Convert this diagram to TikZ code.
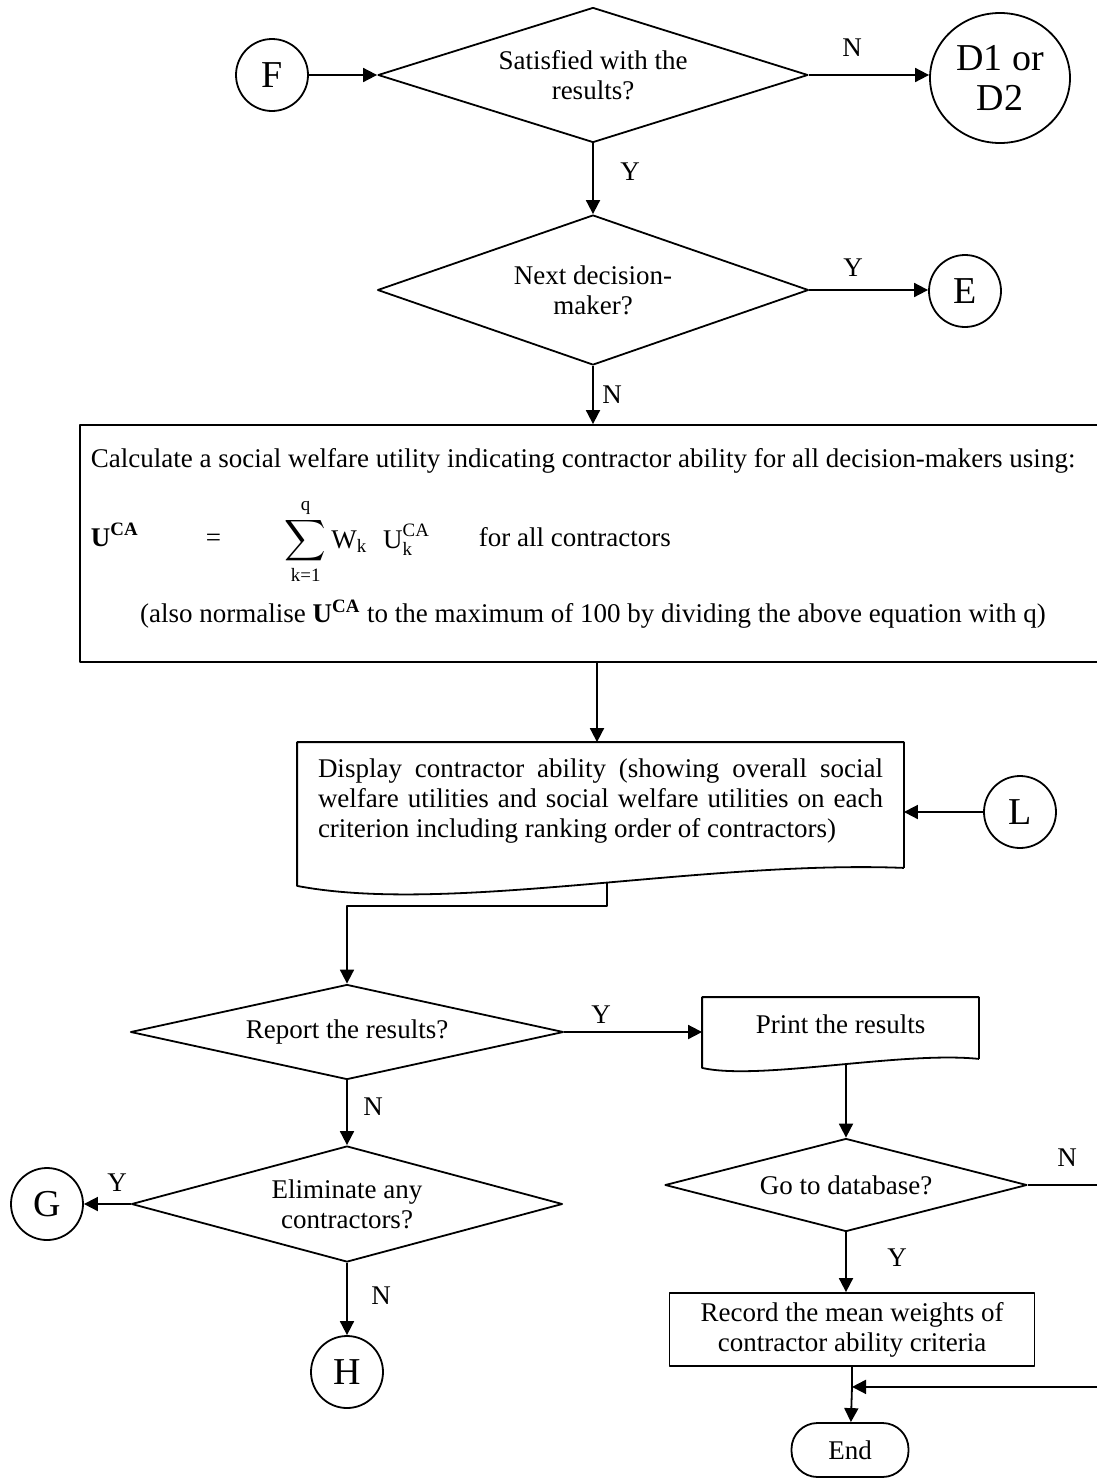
\documentclass[tikz,border=0pt]{standalone}
\usepackage{amsmath}
\usepackage{fontspec}
\setmainfont{Liberation Serif}
\usetikzlibrary{calc,arrows.meta,shapes.geometric}
\tikzset{flowchart/.style={
  x=0.5pt,y=-0.5pt,
  line width=0.9pt,line join=round,
  >={Triangle[length=7pt,width=7pt]},
  font=\fontsize{13.5}{15}\selectfont
},
  decision/.style={draw,diamond,inner sep=0pt,align=center},
  connector/.style={draw,circle,minimum size=36pt,inner sep=0pt,align=center,
    font=\fontsize{19}{20}\selectfont},
  process/.style={draw,rectangle,inner sep=0pt,align=center},
  docshape/.style={rectangle,inner sep=0pt,align=center},
  terminal/.style={draw,rectangle,rounded corners=13pt,inner sep=0pt},
  answer/.style={inner sep=0pt}
}

\begin{document}
\begin{tikzpicture}[flowchart]
  \useasboundingbox (0,0) rectangle (1097,1478);
  % checks before the summary
  \node[connector] (F) at (272,75) {F};
  \node[decision,minimum width=215pt,minimum height=67.5pt,aspect=3.2] (sat) at (593,75) {Satisfied with the\\results?};
  \node[connector,ellipse,minimum width=70pt,minimum height=65pt] (D) at (1000,78) {D1 or\\D2};
  \node[decision,minimum width=215.5pt,minimum height=75pt,aspect=2.9] (next) at (593,290) {Next decision-\\maker?};
  \node[connector] (E) at (965,291) {E};

  % social welfare utility
  \node[process,minimum width=517pt,minimum height=118.5pt] (calc) at (597,543.5) {};
  \node[anchor=west,inner sep=0pt] (calctext) at (90,461) {Calculate a social welfare utility indicating contractor ability for all decision-makers using:};
  \node[anchor=base west,inner sep=0pt] (lhs) at (90,546) {\textbf{U}\textsuperscript{\textbf{CA}}};
  \node[anchor=base west,inner sep=0pt] (eq) at (205,546) {=};
  \node[anchor=base west,inner sep=0pt] (rhs) at (284,548) {$\displaystyle\sum_{\text{k=1}}^{\text{q}}\text{W}_{\text{k}}\;\;\text{U}_{\text{k}}^{\text{CA}}$};
  \node[anchor=base west,inner sep=0pt] (forall) at (478,546) {for all contractors};
  \node[inner sep=0pt] (norm) at (593,614) {(also normalise \textbf{U}\textsuperscript{\textbf{CA}} to the maximum of 100 by dividing the above equation with q)};

  % display of the results
  \node[docshape,minimum width=302.5pt,minimum height=58pt,text width=282.5pt,align=justify] (disp) at (600.5,801) {Display contractor ability (showing overall social\linebreak welfare utilities and social welfare utilities on each\linebreak criterion including ranking order of contractors)};
  \draw ($(disp.south east)+(0,8)$) -- (disp.north east) -- (disp.north west)
    -- ($(disp.south west)+(0,26)$) .. controls ($(disp.south west)+(152,55)$)
    and ($(disp.south east)+(-203,0)$) .. ($(disp.south east)+(0,8)$);
  \node[connector] (L) at (1020,812) {L};

  \node[decision,minimum width=216.5pt,minimum height=47.5pt,aspect=4.5] (report) at (347,1032) {Report the results?};
  \node[docshape,minimum width=137.5pt,minimum height=26pt] (print) at (840.5,1024) {Print the results};
  \draw ($(print.south east)+(0,8)$) -- (print.north east) -- (print.north west)
    -- ($(print.south west)+(0,17)$) .. controls ($(print.south west)+(57,30)$)
    and ($(print.south east)+(-78,0)$) .. ($(print.south east)+(0,8)$);
  \node[decision,minimum width=181pt,minimum height=46.5pt,aspect=3.9] (db) at (846,1185) {Go to database?};
  \node[process,minimum width=182.5pt,minimum height=36.5pt] (record) at (852,1329.5) {Record the mean weights of\\contractor ability criteria};
  \node[terminal,minimum width=58.5pt,minimum height=27pt] (stop) at (850,1450) {End};

  \node[decision,minimum width=215.5pt,minimum height=58pt,aspect=3.7] (elim) at (347,1204) {Eliminate any\\contractors?};
  \node[connector] (G) at (47,1204) {G};
  \node[connector] (H) at (347,1372) {H};

  % flow lines
  \draw[->] (F) -- (sat);
  \draw[->] (sat.east) -- (sat.east -| D.west);
  \draw[->] (sat) -- (next);
  \draw[->] (next.east) -- (next.east -| E.west);
  \draw[->] (next) -- (next |- calc.north);
  \draw[->] (calc.south) -- (calc.south |- disp.north);
  \draw[->] (L) -- (L -| disp.east);
  \draw[->] ($(disp.south)+(6.5,23)$) -- ++(0,23) -| (report.north);
  \draw[->] (report.east) -- (report.east -| print.west);
  \draw[->] ($(print.south)+(5.5,13)$) -- (db.north);
  \draw[->] (db.south) -- (db.south |- record.north);
  \coordinate (join) at ($(record.south)+(0,20)$);
  \draw (record) -- (join);
  \draw[->] (join) -- (stop);
  \draw[->] (db.east) -- ++(85,0) |- (join);
  \draw[->] (report) -- (elim);
  \draw[->] (elim) -- (G);
  \draw[->] (elim) -- (H);

  % branch labels
  \node[answer] (n1) at (852,48) {N};
  \node[answer] (y1) at (630,172) {Y};
  \node[answer] (y2) at (853,268) {Y};
  \node[answer] (n2) at (612,395) {N};
  \node[answer] (y3) at (601,1015) {Y};
  \node[answer] (n3) at (373,1107) {N};
  \node[answer] (y4) at (117,1183) {Y};
  \node[answer] (n4) at (381,1296) {N};
  \node[answer] (n5) at (1067,1158) {N};
  \node[answer] (y5) at (897,1258) {Y};
\end{tikzpicture}
\end{document}
